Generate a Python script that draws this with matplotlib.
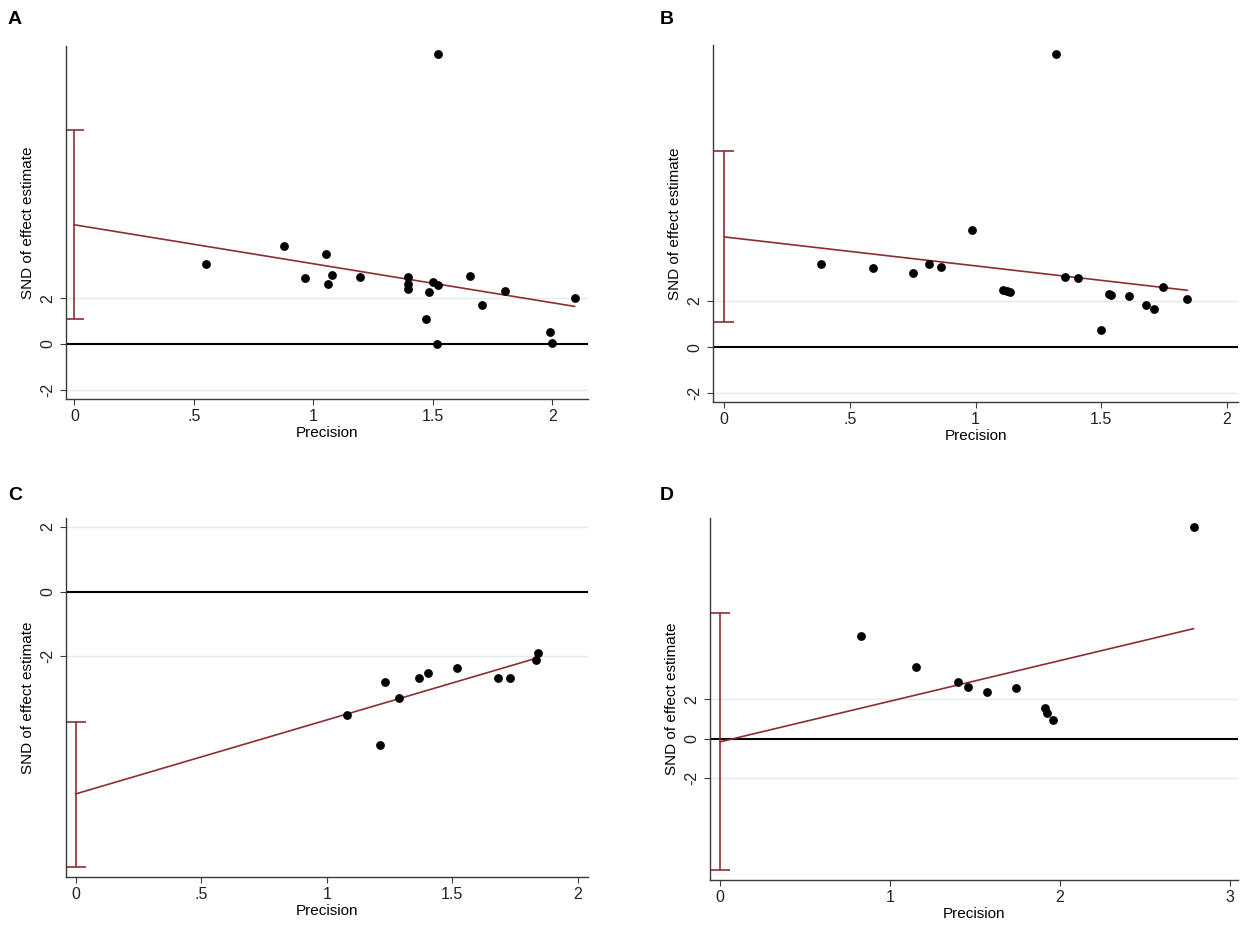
import numpy as np
import matplotlib.pyplot as plt

plt.rcParams['font.family'] = ['Liberation Sans', 'DejaVu Sans']

# ---- data (Galbraith / Egger-style plots) ----
prec_a = [0.552, 0.879, 0.965, 1.052, 1.063, 1.079, 1.197, 1.395, 1.395, 1.395, 1.471,
          1.485, 1.500, 1.524, 1.519, 1.524, 1.656, 1.705, 1.803, 1.990, 2.000, 2.094]
snd_a = [3.50, 4.26, 2.86, 3.91, 2.63, 3.01, 2.92, 2.93, 2.63, 2.38, 1.07,
         2.26, 2.70, 2.58, -0.01, 12.66, 2.98, 1.68, 2.31, 0.51, 0.04, 2.00]

prec_b = [0.384, 0.593, 0.750, 0.813, 0.861, 0.986, 1.108, 1.124, 1.139, 1.322,
          1.356, 1.408, 1.498, 1.531, 1.541, 1.612, 1.679, 1.711, 1.748, 1.842]
snd_b = [3.60, 3.41, 3.21, 3.57, 3.48, 5.05, 2.47, 2.42, 2.37, 12.65,
         3.05, 2.98, 0.72, 2.29, 2.24, 2.20, 1.84, 1.64, 2.58, 2.06]

prec_c = [1.081, 1.212, 1.232, 1.286, 1.368, 1.405, 1.517, 1.681, 1.728, 1.834, 1.840]
snd_c = [-3.83, -4.74, -2.81, -3.28, -2.66, -2.53, -2.36, -2.66, -2.66, -2.12, -1.90]

prec_d = [0.829, 1.155, 1.399, 1.458, 1.573, 1.741, 1.916, 1.923, 1.963, 2.788]
snd_d = [5.26, 3.66, 2.91, 2.65, 2.38, 2.60, 1.54, 1.33, 0.96, 10.85]

# fitted line (intercept, slope) and CI of intercept
intercepts = [5.20, 4.76, -6.26, -0.17]
slopes = [-1.70, -1.25, 2.29, 2.08]
ci_low = [1.09, 1.09, -8.52, -6.75]
ci_high = [9.33, 8.45, -4.02, 6.43]

panel_labels = ['A', 'B', 'C', 'D']
xticks = [[0, 0.5, 1, 1.5, 2], [0, 0.5, 1, 1.5, 2], [0, 0.5, 1, 1.5, 2], [0, 1, 2, 3]]
xticklabels = [['0', '.5', '1', '1.5', '2']] * 3 + [['0', '1', '2', '3']]
yticks = [[-2, 0, 2], [-2, 0, 2], [-2, 0, 2], [-2, 0, 2]]

xlims = [(-0.035, 2.15), (-0.045, 2.045), (-0.038, 2.04), (-0.059, 3.05)]
ylims = [(-2.4, 13.0), (-2.37, 13.05), (-8.83, 2.28), (-7.25, 11.3)]

W, H = 1248, 925
boxes = [(66, 588, 46, 399), (713, 1238, 45, 402), (66, 588, 518, 877), (710, 1238, 518, 880)]
label_pos = [(8, 20), (660, 20), (8, 495), (660, 495)]

red = '#8c2d33'
axis_col = '#3a3a3a'

fig = plt.figure(figsize=(W / 100, H / 100), dpi=100)
data = [(prec_a, snd_a), (prec_b, snd_b), (prec_c, snd_c), (prec_d, snd_d)]

for i, (px, py) in enumerate(data):
    l, r, t, b = boxes[i]
    ax = fig.add_axes([l / W, 1 - b / H, (r - l) / W, (b - t) / H])
    for yt in yticks[i]:
        if yt != 0:
            ax.axhline(yt, color='#e4ebea', lw=1.0, zorder=0)
    ax.axhline(0, color='black', lw=1.5, zorder=1)

    xs = np.array([0, max(px)])
    ax.plot(xs, intercepts[i] + slopes[i] * xs, color=red, lw=1.2, zorder=2)
    ax.errorbar([0], [(ci_low[i] + ci_high[i]) / 2],
                yerr=[[(ci_high[i] - ci_low[i]) / 2]], fmt='none',
                ecolor=red, elinewidth=1.2, capsize=7, capthick=1.2, zorder=2)
    ax.scatter(px, py, s=40, color='black', zorder=3, linewidths=0)

    ax.set_xlim(*xlims[i])
    ax.set_ylim(*ylims[i])
    ax.set_xticks(xticks[i])
    ax.set_xticklabels(xticklabels[i])
    ax.set_yticks(yticks[i])
    ax.set_yticklabels([str(v) for v in yticks[i]], rotation=90, va='center')
    ax.tick_params(colors='#222222', labelsize=11.5, length=4, width=0.8,
                   color=axis_col)
    for s in ['top', 'right']:
        ax.spines[s].set_visible(False)
    for s in ['left', 'bottom']:
        ax.spines[s].set_color(axis_col)
        ax.spines[s].set_linewidth(1.0)
    ax.set_xlabel('Precision', fontsize=11, labelpad=1)
    ax.set_ylabel('SND of effect estimate', fontsize=11, labelpad=4)
    ax.patch.set_alpha(0)

    fig.text(label_pos[i][0] / W, 1 - label_pos[i][1] / H, panel_labels[i],
             fontsize=14, fontweight='bold', va='center', ha='left')

fig.savefig('out.png', dpi=100, facecolor='white')
